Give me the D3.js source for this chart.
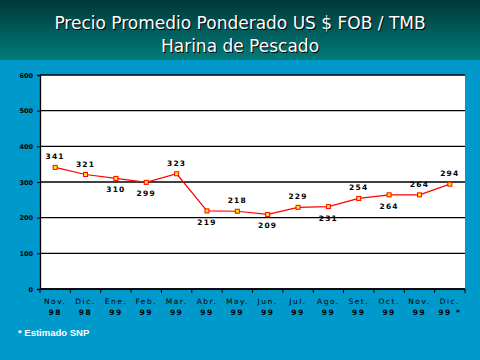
<!DOCTYPE html>
<html><head><meta charset="utf-8">
<script src="https://cdn.jsdelivr.net/npm/d3@7"></script>
<style>html,body{margin:0;padding:0;background:#0099cc;}svg{display:block;}</style>
</head><body>
<script>
const months = ["Nov.","Dic.","Ene.","Feb.","Mar.","Abr.","May.","Jun.","Jul.","Ago.","Set.","Oct.","Nov.","Dic."];
const years = ["98","98","99","99","99","99","99","99","99","99","99","99","99","99 *"];
const prices = [341,321,310,299,323,219,218,209,229,231,254,264,264,294];
const labelPos = ["up","up","down","down","up","down","up","down","up","down","up","down","up","up"];
const yTicks = [0,100,200,300,400,500,600];

const W=480,H=360;
const svg=d3.select("body").append("svg").attr("width",W).attr("height",H);
const defs=svg.append("defs");
const g=defs.append("linearGradient").attr("id","hdr").attr("x1",0).attr("y1",0).attr("x2",0).attr("y2",1);
g.append("stop").attr("offset","0%").attr("stop-color","#013838");
g.append("stop").attr("offset","100%").attr("stop-color","#007c7a");
svg.append("rect").attr("width",W).attr("height",H).attr("fill","#0099cc");
svg.append("rect").attr("width",W).attr("height",60).attr("fill","url(#hdr)");

const titles=["Precio Promedio Ponderado US $ FOB / TMB","Harina de Pescado"];
titles.forEach((t,i)=>{
  const y=i===0?29:52;
  svg.append("text").attr("x",241).attr("y",y+1).attr("text-anchor","middle")
    .attr("font-family","DejaVu Sans").attr("font-size",17).attr("fill","#000").text(t);
  svg.append("text").attr("x",240).attr("y",y).attr("text-anchor","middle")
    .attr("font-family","DejaVu Sans").attr("font-size",17).attr("fill","#fff").text(t);
});

const L=40,R=465,T=75,B=289;
const x=d3.scaleBand().domain(d3.range(months.length)).range([L,R]);
const y=d3.scaleLinear().domain([0,600]).range([B,T]);

svg.append("rect").attr("x",L).attr("y",T).attr("width",R-L).attr("height",B-T).attr("fill","#fff");

svg.append("g").selectAll("line").data(yTicks).join("line")
  .attr("x1",L).attr("x2",R).attr("y1",d=>y(d)).attr("y2",d=>y(d))
  .attr("stroke","#000").attr("stroke-width",1.3);

const ya=svg.append("g").attr("transform",`translate(${L},0)`)
  .call(d3.axisLeft(y).tickValues(yTicks).tickSize(3).tickPadding(4).tickFormat(d3.format("d")));
ya.select(".domain").attr("stroke","#000").attr("stroke-width",1.3);
ya.selectAll("text").attr("font-family","DejaVu Sans").attr("font-size",6.5).attr("font-weight","bold").attr("fill","#000");

const bounds=d3.range(months.length+1).map(i=>L+i*x.step());
svg.append("g").selectAll("line").data(bounds).join("line")
  .attr("x1",d=>d).attr("x2",d=>d).attr("y1",B).attr("y2",B+4).attr("stroke","#000").attr("stroke-width",1);
svg.append("line").attr("x1",L).attr("x2",R).attr("y1",B).attr("y2",B).attr("stroke","#000").attr("stroke-width",1.5);

const xl=svg.append("g");
months.forEach((m,i)=>{
  const cx=x(i)+x.bandwidth()/2;
  xl.append("text").attr("x",cx).attr("y",304).attr("text-anchor","middle")
    .attr("font-family","DejaVu Sans").attr("font-size",7.5).attr("letter-spacing",1.5).attr("fill","#000").text(m);
  xl.append("text").attr("x",cx).attr("y",315).attr("text-anchor","middle")
    .attr("font-family","DejaVu Sans").attr("font-size",7.5).attr("font-weight","bold").attr("letter-spacing",1.5).attr("fill","#000").text(years[i]);
});

const line=d3.line().x((d,i)=>x(i)+x.bandwidth()/2).y(d=>y(d));
svg.append("path").datum(prices).attr("d",line).attr("fill","none").attr("stroke","#ff0000").attr("stroke-width",1.2);

svg.append("g").selectAll("rect").data(prices).join("rect")
  .attr("x",(d,i)=>x(i)+x.bandwidth()/2-2).attr("y",d=>y(d)-2)
  .attr("width",4).attr("height",4).attr("fill","#ffee00").attr("stroke","#ff0000").attr("stroke-width",1);

svg.append("g").selectAll("text").data(prices).join("text")
  .attr("x",(d,i)=>x(i)+x.bandwidth()/2)
  .attr("y",(d,i)=>labelPos[i]==="up"?y(d)-8:y(d)+14)
  .attr("text-anchor","middle").attr("font-family","DejaVu Sans").attr("font-size",7.5)
  .attr("font-weight","bold").attr("letter-spacing",1.2).attr("fill","#000").text(d=>d);

svg.append("text").attr("x",18).attr("y",336).attr("font-family","Liberation Sans").attr("font-size",9.5)
  .attr("font-weight","bold").attr("fill","#fff").text("* Estimado SNP");
</script>
</body></html>
